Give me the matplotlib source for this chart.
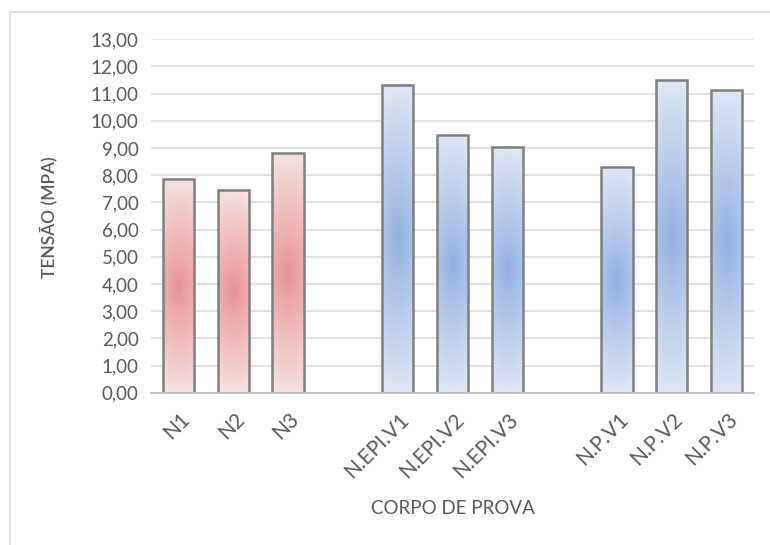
import numpy as np
import matplotlib
matplotlib.use('Agg')
import matplotlib.pyplot as plt
import matplotlib.transforms as mtransforms
from matplotlib.patches import Rectangle
from matplotlib.colors import to_rgb

plt.rcParams['font.family'] = ['Lato', 'DejaVu Sans']

# dados
grupos = ['N', 'N.EPI', 'N.P']
rotulos = [['N1', 'N2', 'N3'],
           ['N.EPI.V1', 'N.EPI.V2', 'N.EPI.V3'],
           ['N.P.V1', 'N.P.V2', 'N.P.V3']]
tensao = [[7.87, 7.47, 8.81],
          [11.32, 9.49, 9.05],
          [8.29, 11.51, 11.14]]
yticks = np.arange(0, 14, 1)

cores = {'N': ('#F6E0E0', '#E99494'),
         'N.EPI': ('#DEE6F4', '#93B1E2'),
         'N.P': ('#DEE6F4', '#93B1E2')}

cinza = '#595959'
fig = plt.figure(figsize=(7.7, 5.45), dpi=100)
ax = fig.add_axes([151/770, 1 - 392.7/545, 603/770, 353.4/545])

larg = 0.57
xs, labs = [], []
for g, nome in enumerate(grupos):
    claro, escuro = np.array(to_rgb(cores[nome][0])), np.array(to_rgb(cores[nome][1]))
    for i, (lab, v) in enumerate(zip(rotulos[g], tensao[g])):
        x = g * 4 + i
        xs.append(x)
        labs.append(lab)
        # gradiente a partir do centro da barra
        ny, nx = 200, 30
        yy, xx = np.mgrid[-1:1:ny*1j, -1:1:nx*1j]
        d = np.clip(np.sqrt((0.35 * xx) ** 2 + yy ** 2), 0, 1)
        img = escuro[None, None, :] * (1 - d[..., None]) + claro[None, None, :] * d[..., None]
        ax.imshow(img, extent=(x - larg/2, x + larg/2, 0, v), aspect='auto',
                  origin='lower', zorder=2, interpolation='bilinear')
        ax.add_patch(Rectangle((x - larg/2, 0), larg, v, fill=False,
                               edgecolor='#7F7F7F', lw=1.8, zorder=3))

ax.set_xlim(-0.5, 10.5)
ax.set_ylim(0, 13)
ax.set_yticks(yticks)
ax.set_yticklabels(['%d,00' % t for t in yticks])
ax.set_xticks(xs)
ax.set_xticklabels(labs, rotation=45, ha='right', va='center', rotation_mode='anchor')
ax.tick_params(length=0, labelsize=13.5, colors=cinza)
ax.tick_params(axis='x', labelsize=15, pad=17)
ax.tick_params(axis='y', pad=9)
desloc = mtransforms.ScaledTranslation(8/100, 0, fig.dpi_scale_trans)
for t in ax.get_xticklabels():
    t.set_transform(t.get_transform() + desloc)
ax.yaxis.grid(True, color='#D9D9D9', lw=1.1, zorder=0)
ax.set_axisbelow(True)
for s in ['top', 'right', 'left']:
    ax.spines[s].set_visible(False)
ax.spines['bottom'].set_color('#BFBFBF')
ax.spines['bottom'].set_linewidth(1.3)
ax.spines['bottom'].set_zorder(4)

ax.set_ylabel('TENSÃO (MPA)', fontsize=12.5, color=cinza, fontweight='semibold')
ax.yaxis.set_label_coords((57 - 151) / 603, 0.497)
fig.text(452.5/770, 1 - 509/545, 'CORPO DE PROVA', fontsize=13.5, color=cinza,
         ha='center', va='center')

fig.patches.append(Rectangle((10/770, -0.05), 1.0, 1 - 12/545 + 0.05, transform=fig.transFigure,
                             fill=False, edgecolor='#D9D9D9', lw=1.2))

fig.savefig('out.png', dpi=100)
